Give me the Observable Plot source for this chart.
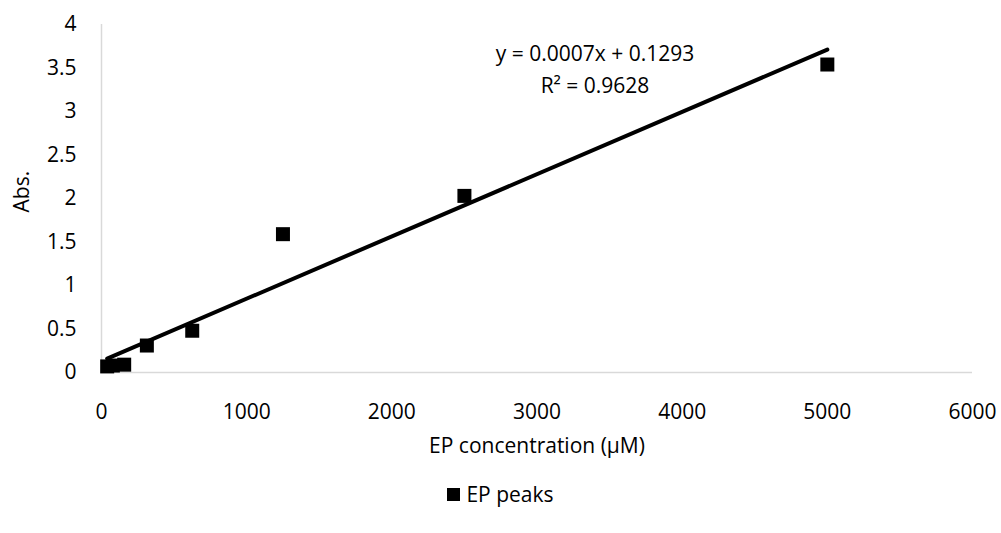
<!DOCTYPE html>
<html>
<head>
<meta charset="utf-8">
<script src="https://cdn.jsdelivr.net/npm/d3@7"></script>
<script src="https://cdn.jsdelivr.net/npm/@observablehq/plot@0.6"></script>
<style>
  body { margin: 0; background: #fff; font-family: "Open Sans", sans-serif; }
  #chart svg { display: block; }
  .legend { width: 1001px; display: flex; justify-content: center; align-items: center;
            height: 38px; font-size: 21px; color: #000; }
  .legend .swatch { width: 13px; height: 13px; background: #000; margin-right: 6px; }
</style>
</head>
<body>
<div id="chart"></div>
<div class="legend"><span class="swatch"></span><span>EP peaks</span></div>
<script>
// EP concentration series (µM) and measured absorbance
const concentration = [39.06, 78.125, 156.25, 312.5, 625, 1250, 2500, 5000];
const absorbance = [0.07, 0.08, 0.09, 0.31, 0.48, 1.59, 2.03, 3.54];
const xTicks = [0, 1000, 2000, 3000, 4000, 5000, 6000];
const yTicks = [0, 0.5, 1, 1.5, 2, 2.5, 3, 3.5, 4];
const equationText = "y = 0.0007x + 0.1293\nR² = 0.9628";

const points = concentration.map((c, i) => ({x: c, y: absorbance[i]}));

const chart = Plot.plot({
  width: 1001,
  height: 475,
  marginLeft: 101,
  marginRight: 29,
  marginTop: 24,
  marginBottom: 103,
  style: {fontFamily: "Open Sans, sans-serif", fontSize: "21px", color: "#000", background: "#fff"},
  x: {domain: [0, 6000], ticks: xTicks, tickFormat: d => String(d), tickSize: 0, tickPadding: 32, label: null},
  y: {domain: [0, 4], ticks: yTicks, tickFormat: d => String(d), tickSize: 0, tickPadding: 25, label: null},
  marks: [
    Plot.ruleY([0], {stroke: "#d9d9d9", strokeWidth: 1.5}),
    Plot.ruleX([0], {stroke: "#d9d9d9", strokeWidth: 1.5}),
    Plot.dot(points, {x: "x", y: "y", symbol: "square", r: 7.9, fill: "#000", stroke: "none"}),
    // least-squares trendline through the measured points
    Plot.linearRegressionY(points, {x: "x", y: "y", ci: 0, stroke: "#000", strokeWidth: 4}),
    Plot.text([equationText], {frameAnchor: "top", lineAnchor: "top", dx: 58, dy: 14, lineHeight: 1.52, fontSize: 21, fill: "#000"}),
    Plot.text(["EP concentration (μM)"], {frameAnchor: "bottom", lineAnchor: "middle", dy: 74, fontSize: 21, fill: "#000"}),
    Plot.text(["Abs."], {frameAnchor: "left", rotate: -90, dx: -79, dy: 14, fontSize: 21, fill: "#000"})
  ]
});
document.getElementById("chart").append(chart);
</script>
</body>
</html>
